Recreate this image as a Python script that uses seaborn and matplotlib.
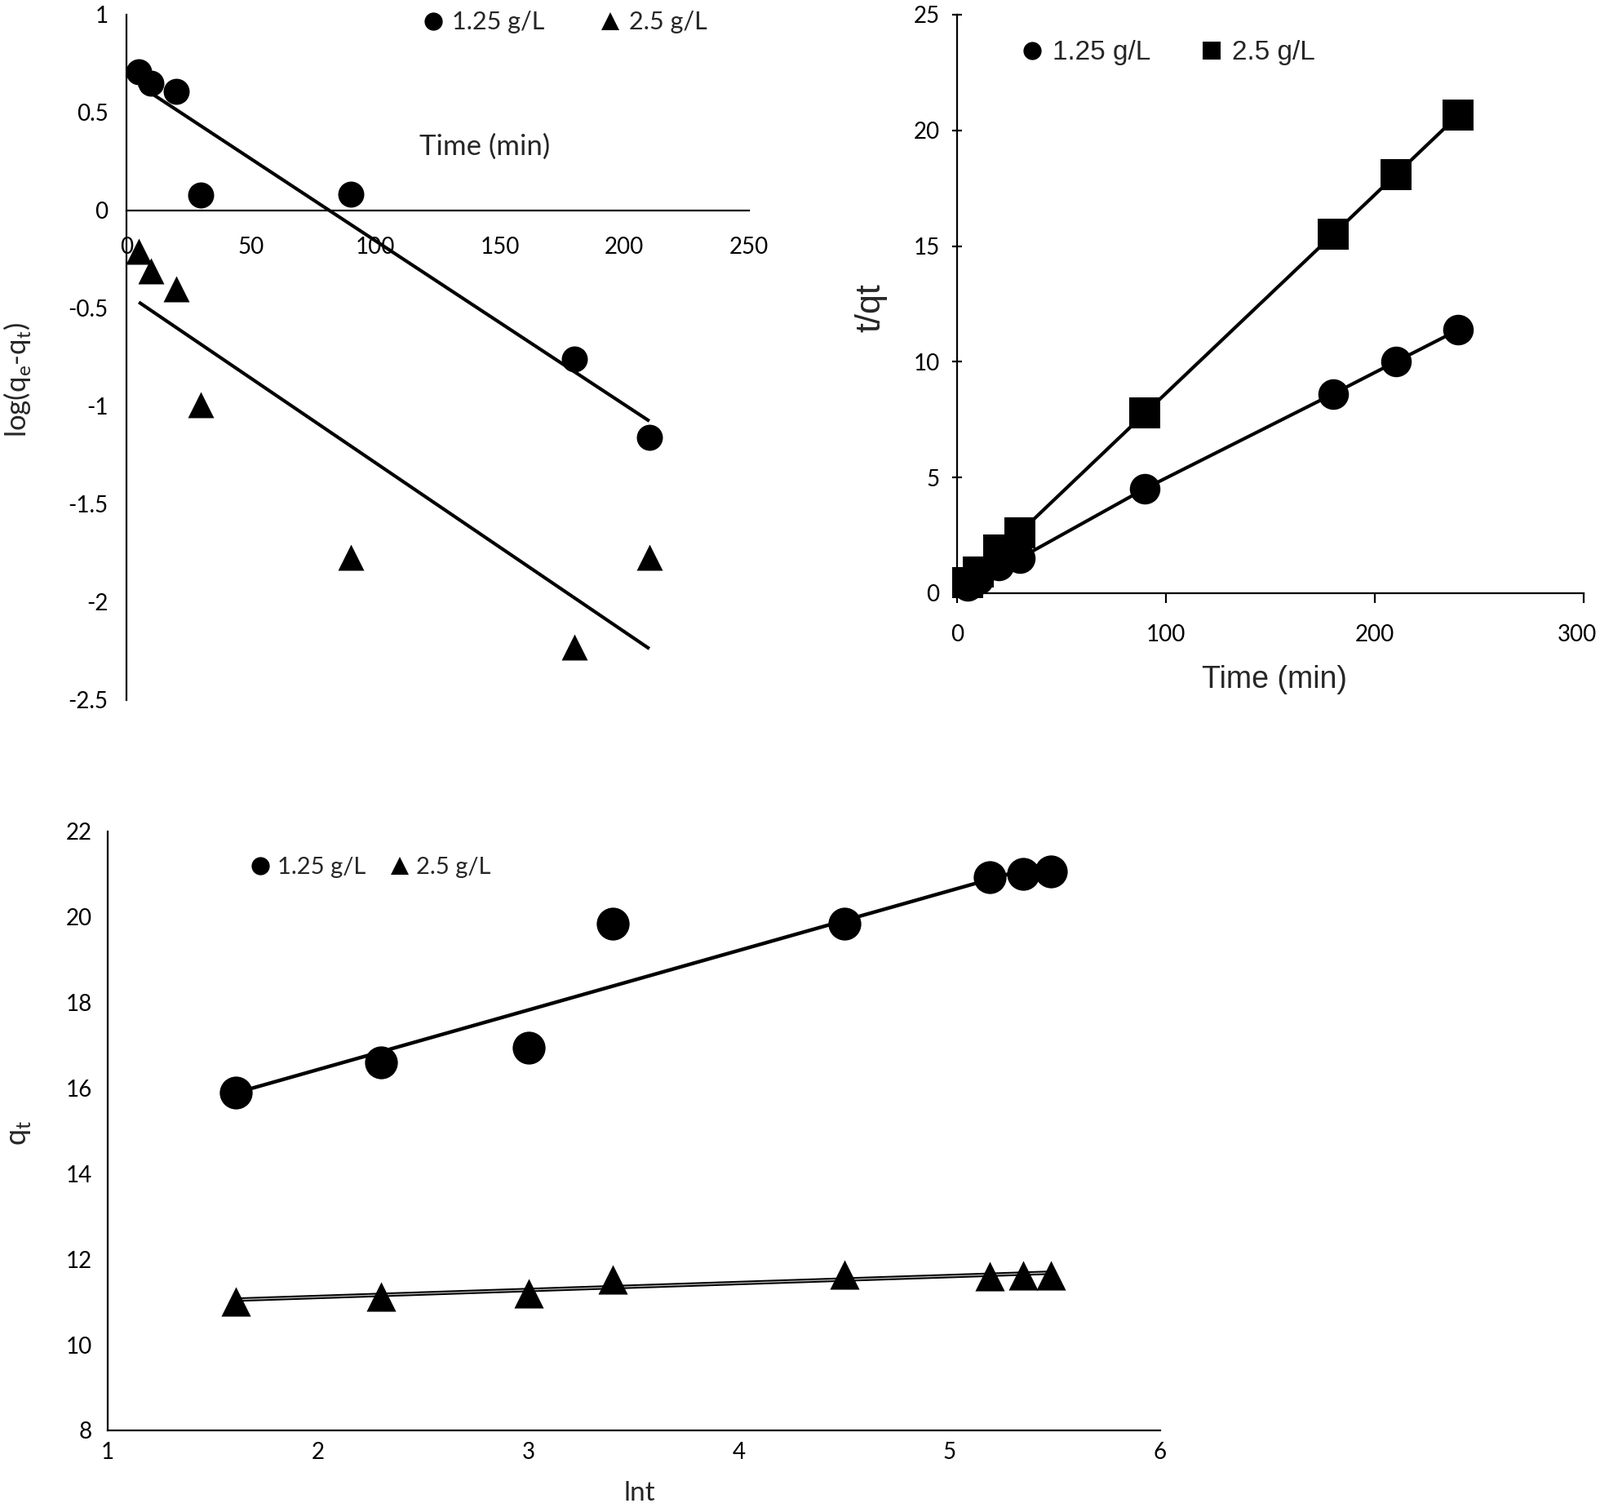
import matplotlib
matplotlib.use('Agg')
import matplotlib.pyplot as plt
from matplotlib.lines import Line2D
from matplotlib.ticker import FormatStrFormatter
from matplotlib.transforms import ScaledTranslation
import seaborn as sns

# pseudo-first-order: log(qe - qt) vs time
time_pfo = [5, 10, 20, 30, 90, 180, 210]
log_125 = [0.71, 0.65, 0.61, 0.08, 0.085, -0.76, -1.16]
log_25 = [-0.21, -0.31, -0.40, -0.99, -1.77, -2.23, -1.77]

# pseudo-second-order: t/qt vs time
time_pso = [5, 10, 20, 30, 90, 180, 210, 240]
tq_125 = [0.31, 0.60, 1.18, 1.51, 4.52, 8.61, 10.0, 11.38]
tq_25 = [0.45, 0.90, 1.85, 2.62, 7.78, 15.5, 18.08, 20.66]

# Elovich: qt vs ln t
lnt = [1.61, 2.30, 3.00, 3.40, 4.50, 5.19, 5.35, 5.48]
qt_125 = [15.89, 16.61, 16.94, 19.85, 19.85, 20.93, 21.0, 21.07]
qt_25 = [11.01, 11.13, 11.21, 11.52, 11.65, 11.60, 11.62, 11.62]

dose_labels = ['1.25 g/L', '2.5 g/L']

sns.set_theme(style='white')
plt.rcParams['font.family'] = ['Lato', 'DejaVu Sans']
plt.rcParams['axes.unicode_minus'] = False
plt.rcParams['mathtext.fontset'] = 'custom'
plt.rcParams['mathtext.rm'] = 'Lato'

ARIAL = ['Liberation Sans', 'DejaVu Sans']

fig = plt.figure(figsize=(19.61, 18.53), dpi=100)


def marker_handles(markers, size):
    return [Line2D([], [], ls='none', marker=m, ms=size, color='black', mew=0)
            for m in markers]


def style_spines(ax):
    ax.spines['top'].set_visible(False)
    ax.spines['right'].set_visible(False)
    for sp in ('left', 'bottom'):
        ax.spines[sp].set_linewidth(1.6)
        ax.spines[sp].set_color('black')


# ---------------- top-left: log(qe-qt) ----------------
ax1 = fig.add_axes([0.0790, 0.5370, 0.3891, 0.4533])
sns.scatterplot(x=time_pfo, y=log_125, marker='o', s=23 ** 2, color='black',
                linewidth=0, clip_on=False, zorder=3, ax=ax1)
sns.scatterplot(x=time_pfo, y=log_25, marker='^', s=23 ** 2, color='black',
                linewidth=0, clip_on=False, zorder=3, ax=ax1)
sns.regplot(x=time_pfo, y=log_125, scatter=False, ci=None, color='black',
            line_kws={'lw': 3, 'solid_capstyle': 'butt'}, ax=ax1)
sns.regplot(x=time_pfo, y=log_25, scatter=False, ci=None, color='black',
            line_kws={'lw': 3, 'solid_capstyle': 'butt'}, ax=ax1)
ax1.set_xlim(0, 250)
ax1.set_ylim(-2.5, 1)
ax1.set_xticks([0, 50, 100, 150, 200, 250])
ax1.set_yticks([-2.5, -2, -1.5, -1, -0.5, 0, 0.5, 1])
ax1.yaxis.set_major_formatter(FormatStrFormatter('%g'))
ax1.spines['left'].set_position(('data', 0))
ax1.spines['bottom'].set_position(('data', 0))
style_spines(ax1)
ax1.tick_params(axis='x', length=0, pad=23, labelsize=20, colors='black')
ax1.tick_params(axis='y', length=0, pad=16, labelsize=20, colors='black')
ax1.set_ylabel('log(q$_\\mathregular{e}$-q$_\\mathregular{t}$)', fontsize=25)
ax1.yaxis.set_label_coords(-0.151, 0.467)
ax1.text(143.8, 0.325, 'Time (min)', fontsize=25, ha='center', va='center')
ax1.legend(handles=marker_handles(['o', '^'], 16), labels=dose_labels, ncol=2,
           loc='center left', bbox_to_anchor=(0.473, 0.989), frameon=False,
           fontsize=22, handlelength=1.0, handletextpad=0.25, columnspacing=2.13,
           borderpad=0, borderaxespad=0)

# ---------------- top-right: t/qt ----------------
ax2 = fig.add_axes([0.5982, 0.6077, 0.3916, 0.3826])
sns.lineplot(x=time_pso, y=tq_125, marker='o', markersize=27, mew=0, color='black',
             lw=3, clip_on=False, ax=ax2)
sns.lineplot(x=time_pso, y=tq_25, marker='s', markersize=28, mew=0, color='black',
             lw=3, clip_on=False, ax=ax2)
ax2.set_xlim(0, 300)
ax2.set_ylim(0, 25)
ax2.set_xticks([0, 100, 200, 300])
ax2.set_yticks([0, 5, 10, 15, 20, 25])
style_spines(ax2)
ax2.tick_params(axis='x', direction='out', length=8.5, width=1.6, pad=19,
                labelsize=20, colors='black', bottom=True)
ax2.tick_params(axis='y', direction='inout', length=9, width=1.6, pad=11,
                labelsize=20, colors='black', left=True)
# last x label sits on the figure edge, nudge it a little left
last_lbl = ax2.xaxis.get_major_ticks()[-1].label1
last_lbl.set_transform(last_lbl.get_transform()
                       + ScaledTranslation(-6 / 72, 0, fig.dpi_scale_trans))
ax2.set_xlabel('Time (min)', fontsize=27, family=ARIAL)
ax2.set_ylabel('t/qt', fontsize=31, family=ARIAL)
ax2.xaxis.set_label_coords(0.507, -0.124)
ax2.yaxis.set_label_coords(-0.111, 0.494)
ax2.legend(handles=marker_handles(['o', 's'], 16), labels=dose_labels, ncol=2,
           loc='center left', bbox_to_anchor=(0.098, 0.934), frameon=False,
           prop={'family': ARIAL, 'size': 24}, handlelength=1.0,
           handletextpad=0.25, columnspacing=1.75, borderpad=0, borderaxespad=0)

# ---------------- bottom: qt vs lnt ----------------
ax3 = fig.add_axes([0.0673, 0.0540, 0.6578, 0.3961])
sns.regplot(x=lnt, y=qt_125, scatter=False, ci=None, color='black',
            line_kws={'lw': 3.2, 'solid_capstyle': 'butt'}, ax=ax3)
sns.regplot(x=lnt, y=qt_25, scatter=False, ci=None, color='black',
            line_kws={'lw': 3.8, 'solid_capstyle': 'butt'}, ax=ax3)
sns.regplot(x=lnt, y=qt_25, scatter=False, ci=None, color='#b0b0b0',
            line_kws={'lw': 1.0, 'solid_capstyle': 'butt'}, ax=ax3)
sns.scatterplot(x=lnt, y=qt_125, marker='o', s=29 ** 2, color='black',
                linewidth=0, clip_on=False, zorder=3, ax=ax3)
sns.scatterplot(x=lnt, y=qt_25, marker='^', s=26 ** 2, color='black',
                linewidth=0, clip_on=False, zorder=3, ax=ax3)
ax3.set_xlim(1, 6)
ax3.set_ylim(8, 22)
ax3.set_xticks([1, 2, 3, 4, 5, 6])
ax3.set_yticks([8, 10, 12, 14, 16, 18, 20, 22])
style_spines(ax3)
ax3.tick_params(axis='x', length=0, pad=10, labelsize=20, colors='black')
ax3.tick_params(axis='y', length=0, pad=13.5, labelsize=20, colors='black')
ax3.set_xlabel('lnt', fontsize=24)
ax3.set_ylabel('q$_\\mathregular{t}$', fontsize=26)
ax3.xaxis.set_label_coords(0.505, -0.0845)
ax3.yaxis.set_label_coords(-0.071, 0.497)
ax3.legend(handles=marker_handles(['o', '^'], 16), labels=dose_labels, ncol=2,
           loc='center left', bbox_to_anchor=(0.134, 0.940), frameon=False,
           fontsize=21, handlelength=1.0, handletextpad=0.19, columnspacing=0.96,
           borderpad=0, borderaxespad=0)

fig.savefig('out.png', dpi=100, facecolor='white')
